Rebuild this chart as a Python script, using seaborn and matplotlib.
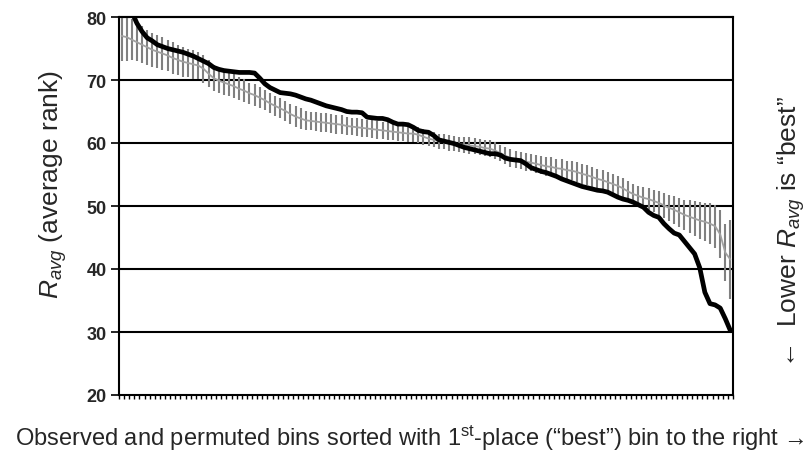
import numpy as np
import pandas as pd
import matplotlib
matplotlib.use("Agg")
import matplotlib.pyplot as plt
import seaborn as sns

# Observed R_avg per bin, sorted so the 1st-place bin is on the right
observed = [
    83.0, 82.0, 80.8, 79.0, 77.7, 76.7, 76.2, 75.6, 75.3, 75.0,
    74.8, 74.6, 74.4, 74.1, 73.8, 73.4, 73.0, 72.6, 72.0, 71.7,
    71.5, 71.4, 71.3, 71.2, 71.2, 71.2, 71.1, 70.3, 69.4, 68.8,
    68.4, 68.0, 67.9, 67.8, 67.6, 67.3, 67.0, 66.8, 66.5, 66.2,
    65.9, 65.7, 65.5, 65.3, 65.0, 64.9, 64.9, 64.8, 64.1, 64.0,
    63.9, 63.9, 63.7, 63.3, 63.0, 63.0, 62.9, 62.5, 62.0, 61.8,
    61.7, 61.2, 60.5, 60.3, 60.1, 59.9, 59.6, 59.3, 59.1, 58.9,
    58.7, 58.5, 58.3, 58.3, 58.1, 57.6, 57.4, 57.3, 57.2, 56.7,
    56.1, 55.8, 55.5, 55.3, 55.0, 54.7, 54.3, 54.0, 53.7, 53.4,
    53.1, 52.9, 52.7, 52.5, 52.4, 52.2, 51.8, 51.4, 51.1, 50.9,
    50.6, 50.2, 49.8, 49.0, 48.5, 48.2, 47.2, 46.4, 45.7, 45.4,
    44.4, 43.4, 42.4, 40.2, 36.3, 34.5, 34.3, 33.8, 32.1, 30.2,
]

# Mean R_avg of the permuted bins and the spread shown as error bars
permuted_mean = [
    77.0, 76.8, 76.4, 76.0, 75.6, 75.2, 74.8, 74.5, 74.2, 73.9,
    73.5, 73.2, 72.9, 72.7, 72.5, 72.3, 71.8, 71.0, 70.3, 69.9,
    69.6, 69.3, 69.0, 68.6, 68.3, 67.9, 67.6, 67.2, 66.8, 66.3,
    65.9, 65.5, 65.1, 64.6, 64.2, 63.9, 63.6, 63.5, 63.4, 63.3,
    63.2, 63.1, 63.0, 62.9, 62.7, 62.6, 62.5, 62.4, 62.3, 62.2,
    62.1, 62.0, 61.9, 61.8, 61.7, 61.6, 61.5, 61.5, 61.3, 61.0,
    60.7, 60.5, 60.3, 60.2, 60.0, 59.9, 59.8, 59.7, 59.6, 59.5,
    59.4, 59.2, 59.1, 58.8, 58.4, 58.0, 57.6, 57.4, 57.2, 57.0,
    56.9, 56.7, 56.5, 56.3, 56.2, 56.0, 55.9, 55.7, 55.6, 55.4,
    55.1, 54.9, 54.6, 54.3, 54.1, 53.8, 53.5, 53.2, 52.8, 52.3,
    51.9, 51.6, 51.3, 51.1, 50.8, 50.5, 50.1, 49.7, 49.4, 49.0,
    48.6, 48.3, 48.0, 47.7, 47.5, 47.2, 46.8, 45.5, 42.6, 41.5,
]
permuted_err = [
    4.0, 3.8, 3.3, 3.0, 2.9, 2.8, 2.7, 2.6, 2.6, 2.5,
    2.5, 2.4, 2.4, 2.3, 2.3, 2.2, 2.2, 2.1, 2.1, 2.0,
    2.0, 1.9, 1.9, 1.8, 1.8, 1.7, 1.7, 1.7, 1.6, 1.6,
    1.6, 1.6, 1.6, 1.6, 1.6, 1.6, 1.5, 1.5, 1.5, 1.5,
    1.5, 1.5, 1.5, 1.5, 1.4, 1.4, 1.4, 1.4, 1.4, 1.4,
    1.4, 1.4, 1.4, 1.4, 1.4, 1.3, 1.3, 1.3, 1.3, 1.3,
    1.2, 1.2, 1.2, 1.2, 1.2, 1.2, 1.2, 1.3, 1.3, 1.3,
    1.3, 1.3, 1.3, 1.3, 1.3, 1.3, 1.4, 1.4, 1.4, 1.4,
    1.4, 1.4, 1.4, 1.5, 1.5, 1.5, 1.5, 1.5, 1.5, 1.6,
    1.6, 1.6, 1.6, 1.6, 1.6, 1.6, 1.6, 1.6, 1.6, 1.6,
    1.6, 1.6, 1.7, 1.7, 1.8, 1.9, 2.0, 2.1, 2.2, 2.3,
    2.4, 2.6, 2.8, 2.9, 3.0, 3.2, 3.4, 3.8, 4.5, 6.2,
]
y_ticks = [20, 30, 40, 50, 60, 70, 80]

sns.set_theme(style="white")
plt.rcParams["font.family"] = ["Liberation Sans", "DejaVu Sans"]
plt.rcParams["mathtext.fontset"] = "custom"
plt.rcParams["mathtext.rm"] = "Liberation Sans"
plt.rcParams["mathtext.it"] = "Liberation Sans:italic"

n_bins = len(observed)
df = pd.DataFrame({
    "bin": np.arange(n_bins),
    "observed": observed,
    "permuted": permuted_mean,
    "err": permuted_err,
})

fig = plt.figure(figsize=(8.1, 4.52), dpi=100)
ax = fig.add_axes([119 / 810, 1 - 396 / 452, 614 / 810, 378 / 452])

# horizontal reference lines
for v in y_ticks[1:]:
    ax.axhline(v, color="black", lw=1.5, zorder=1, clip_on=False)

# permuted bins: spread as vertical bars plus a thin mean line
ax.errorbar(df["bin"], df["permuted"], yerr=df["err"], fmt="none",
            ecolor="#808080", elinewidth=1.5, capsize=0, zorder=2)
sns.lineplot(data=df, x="bin", y="permuted", color="#a0a0a0",
             linewidth=1.3, ax=ax, zorder=3)
# observed bins
sns.lineplot(data=df, x="bin", y="observed", color="black",
             linewidth=3.4, ax=ax, zorder=4)

ax.set_xlim(-0.5, n_bins - 0.5)
ax.set_ylim(20, 80)
ax.set_yticks(y_ticks)
ax.set_yticklabels([str(t) for t in y_ticks], fontsize=13, fontweight="bold")
ax.set_xticks([])
ax.set_xticks(np.arange(n_bins + 1) - 0.5, minor=True)
ax.tick_params(axis="x", which="minor", direction="out", length=3,
               width=1.0, color="black", bottom=True)
ax.tick_params(axis="y", which="major", direction="out", length=6,
               width=1.2, color="black", left=True, pad=3)
ax.set_xlabel("")
ax.set_ylabel("")
for side in ["left", "right", "bottom", "top"]:
    ax.spines[side].set_visible(True)
    ax.spines[side].set_color("black")
    ax.spines[side].set_linewidth(1.5)
ax.grid(False)

fig.text(53 / 810, 1 - 185 / 452, r"$R_{avg}$ (average rank)",
         rotation=90, ha="center", va="center", fontsize=19)
fig.text(791 / 810, 1 - 232 / 452, r"←  Lower $R_{avg}$ is “best”",
         rotation=90, ha="center", va="center", fontsize=19)
fig.text(410 / 810, 1 - 438 / 452,
         r"Observed and permuted bins sorted with 1$^{\rm st}$-place (“best”) bin to the right →",
         ha="center", va="center", fontsize=17)

fig.savefig("out.png", dpi=100, facecolor="white")
